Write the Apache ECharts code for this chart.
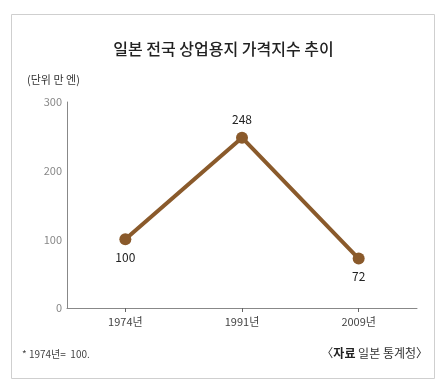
<!DOCTYPE html>
<html><head><meta charset="utf-8">
<script src="https://cdn.jsdelivr.net/npm/echarts@6/dist/echarts.min.js"></script>
<style>html,body{margin:0;padding:0;background:#fff}#c{width:447px;height:387px}</style>
</head><body><div id="c"></div>
<script>
var categories = ['1974년', '1991년', '2009년'];
var values = [100, 248, 72];
var labelPos = ['bottom', 'top', 'bottom'];
var yTicks = [0, 100, 200, 300];

var FONT = '"Noto Sans CJK KR", "Noto Sans", sans-serif';
var chart = echarts.init(document.getElementById('c'), null, {renderer: 'canvas'});
chart.setOption({
  backgroundColor: '#fff',
  animation: false,
  title: {
    text: '일본 전국 상업용지 가격지수 추이',
    left: 'center', top: 36,
    textStyle: {fontFamily: FONT, fontSize: 16, fontWeight: 500, color: '#222'}
  },
  grid: {left: 67, right: 30, top: 102, bottom: 79},
  xAxis: {
    type: 'category', data: categories, boundaryGap: true,
    axisLine: {lineStyle: {color: '#888', width: 1}},
    axisTick: {show: true, alignWithLabel: true, length: 4, lineStyle: {color: '#666'}},
    axisLabel: {fontFamily: FONT, fontSize: 11, color: '#444', margin: 8}
  },
  yAxis: {
    type: 'value', min: 0, max: 300, interval: 100,
    axisLine: {show: true, lineStyle: {color: '#888', width: 1}},
    axisTick: {show: false},
    splitLine: {show: false},
    axisLabel: {fontFamily: FONT, fontSize: 11, color: '#888', margin: 5}
  },
  series: [{
    type: 'line',
    data: values.map(function (v, i) {
      return {value: v, label: {position: labelPos[i]}};
    }),
    symbol: 'circle', symbolSize: 12,
    lineStyle: {color: '#8a5a2b', width: 4},
    itemStyle: {color: '#8a5a2b'},
    label: {show: true, fontFamily: FONT, fontSize: 12, color: '#222', distance: 6}
  }],
  graphic: [
    {type: 'rect', shape: {x: 11.5, y: 14.5, width: 423, height: 364}, style: {fill: null, stroke: '#cfcfcf', lineWidth: 1}, silent: true},
    {type: 'text', left: 27, top: 74, style: {text: '(단위 만 엔)', font: '11px ' + FONT, fill: '#333'}},
    {type: 'text', left: 22, top: 349, style: {text: '* 1974년=  100.', font: '10px ' + FONT, fill: '#444'}},
    {type: 'text', right: 19, top: 347, style: {
      text: '〈{b|자료} 일본 통계청〉',
      font: '12px ' + FONT, fill: '#333',
      rich: {b: {fontFamily: FONT, fontSize: 12, fontWeight: 'bold', fill: '#222'}}
    }}
  ]
});
</script></body></html>
